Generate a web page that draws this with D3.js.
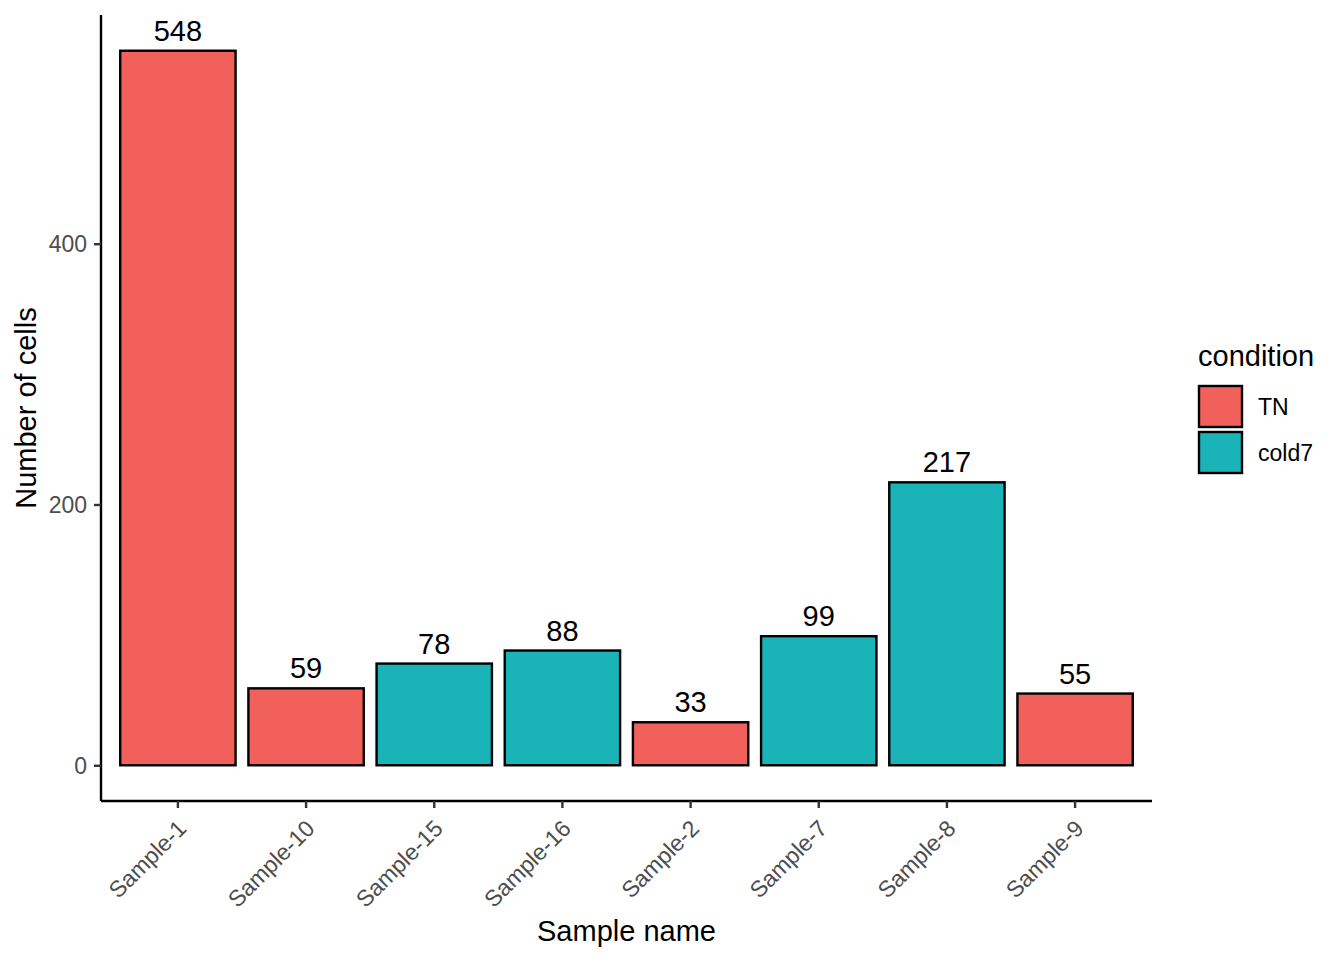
<!DOCTYPE html>
<html><head><meta charset="utf-8">
<script src="https://cdn.jsdelivr.net/npm/d3@7"></script>
<style>body{margin:0;background:#fff;} text{font-family:"Liberation Sans",Arial,Helvetica,sans-serif;}</style>
</head><body>
<script>
const samples = ["Sample-1","Sample-10","Sample-15","Sample-16","Sample-2","Sample-7","Sample-8","Sample-9"];
const counts = [548,59,78,88,33,99,217,55];
const conditions = ["TN","TN","cold7","cold7","TN","cold7","cold7","TN"];
const conditionLevels = ["TN","cold7"];
const conditionColors = ["#F2605C","#19B3B8"];
const yTicks = [0,200,400];

const W=1344,H=960;
const svg=d3.select("body").append("svg").attr("width",W).attr("height",H);
const L=101,R=1152,T=15,B=801;
const data = samples.map((s,i)=>({s,v:counts[i],c:conditions[i]}));
const x=d3.scaleBand().domain(samples).range([L,R]).paddingInner(0.1).paddingOuter(0.15);
const yMax=d3.max(counts);
const y=d3.scaleLinear().domain([-0.05*yMax,1.05*yMax]).range([B,T]);
const color=d3.scaleOrdinal().domain(conditionLevels).range(conditionColors);

svg.append("g").selectAll("rect").data(data).join("rect")
 .attr("x",d=>x(d.s)).attr("width",x.bandwidth())
 .attr("y",d=>y(d.v)).attr("height",d=>y(0)-y(d.v))
 .attr("fill",d=>color(d.c)).attr("stroke","#000").attr("stroke-width",2.4);

svg.append("g").selectAll("text").data(data).join("text")
 .attr("x",d=>x(d.s)+x.bandwidth()/2).attr("y",d=>y(d.v)-10)
 .attr("text-anchor","middle").attr("font-size",29).attr("fill","#000").text(d=>d.v);

// y axis
const ya=svg.append("g").attr("transform",`translate(${L},0)`)
 .call(d3.axisLeft(y).tickValues(yTicks).tickSize(7).tickPadding(7));
ya.select(".domain").attr("d",`M0,${T}V${B}`).attr("stroke","#000").attr("stroke-width",2.4);
ya.selectAll(".tick line").attr("stroke","#333").attr("stroke-width",2.4);
ya.selectAll(".tick text").attr("font-size",23).attr("fill","#4d4d4d").attr("dy","0.35em");

// x axis
const xa=svg.append("g").attr("transform",`translate(0,${B})`)
 .call(d3.axisBottom(x).tickSize(7).tickPadding(4));
xa.select(".domain").attr("d",`M${L},0H${R}`).attr("stroke","#000").attr("stroke-width",2.4);
xa.selectAll(".tick line").attr("stroke","#333").attr("stroke-width",2.4);
xa.selectAll(".tick text").attr("font-size",23).attr("fill","#4d4d4d")
 .attr("text-anchor","end").attr("dy",null).attr("y",0)
 .attr("transform","translate(10,29) rotate(-45)");

svg.append("text").attr("x",(L+R)/2).attr("y",941).attr("text-anchor","middle")
 .attr("font-size",29).attr("fill","#000").text("Sample name");
svg.append("text").attr("transform",`translate(36,${(T+B)/2}) rotate(-90)`).attr("text-anchor","middle")
 .attr("font-size",29).attr("fill","#000").text("Number of cells");

// legend
const lg=svg.append("g");
lg.append("text").attr("x",1198).attr("y",366).attr("font-size",29).attr("fill","#000").text("condition");
conditionLevels.forEach((c,i)=>{
  lg.append("rect").attr("x",1199).attr("y",386+i*46).attr("width",43).attr("height",41)
   .attr("fill",color(c)).attr("stroke","#000").attr("stroke-width",2.4);
  lg.append("text").attr("x",1258).attr("y",407+i*46).attr("dy","0.35em").attr("font-size",23).attr("fill","#000").text(c);
});
</script></body></html>
